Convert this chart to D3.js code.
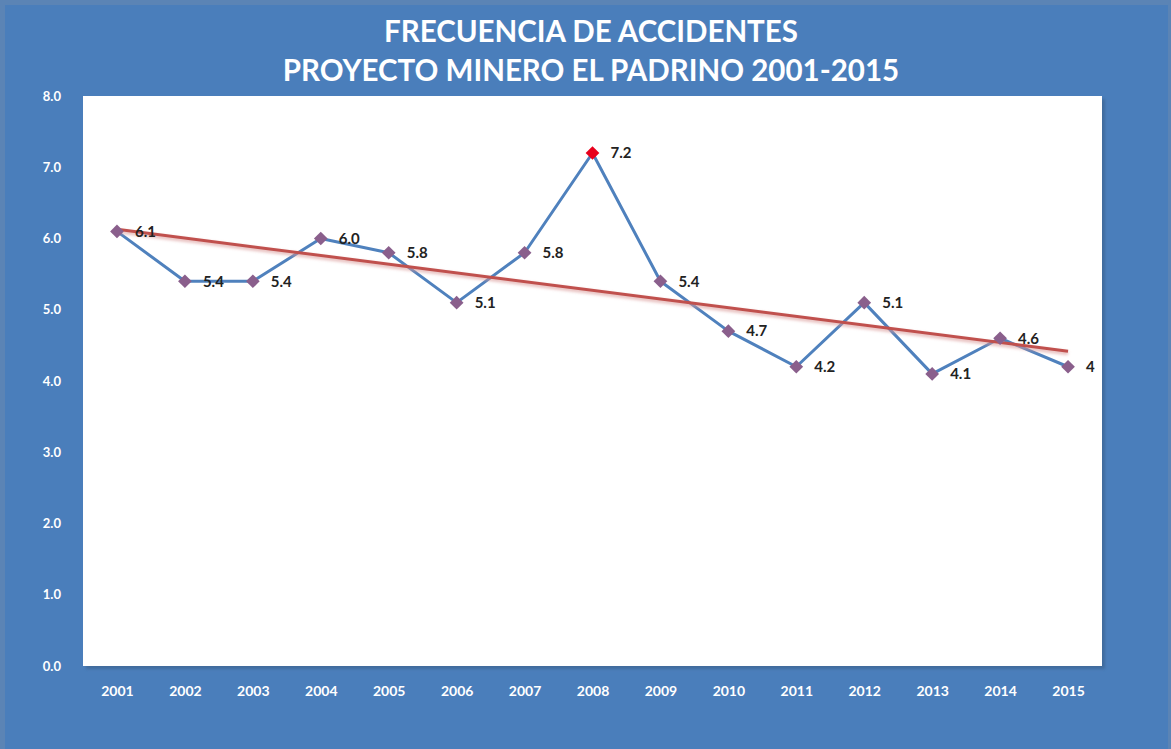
<!DOCTYPE html>
<html>
<head>
<meta charset="utf-8">
<script src="https://cdn.jsdelivr.net/npm/d3@7"></script>
<style>
  body { margin: 0; background: #fff; }
  svg { display: block; }
  text { font-family: Lato, "Open Sans", sans-serif; }
</style>
</head>
<body>
<svg id="chart"></svg>
<script>
const years = ["2001","2002","2003","2004","2005","2006","2007","2008","2009","2010","2011","2012","2013","2014","2015"];
const frecuencia = [6.1, 5.4, 5.4, 6.0, 5.8, 5.1, 5.8, 7.2, 5.4, 4.7, 4.2, 5.1, 4.1, 4.6, 4.2];
const etiquetas = ["6.1","5.4","5.4","6.0","5.8","5.1","5.8","7.2","5.4","4.7","4.2","5.1","4.1","4.6","4"];
const yTicks = [0, 1, 2, 3, 4, 5, 6, 7, 8];
const titulo = ["FRECUENCIA DE ACCIDENTES", "PROYECTO MINERO EL PADRINO 2001-2015"];

const width = 1171, height = 749;
const plot = { left: 83, right: 1102, top: 96, bottom: 666 };

const svg = d3.select("#chart")
    .attr("width", width)
    .attr("height", height);

const defs = svg.append("defs");
const blur = defs.append("filter").attr("id", "soft")
    .attr("x", "-5%").attr("y", "-50%").attr("width", "110%").attr("height", "200%");
blur.append("feGaussianBlur").attr("stdDeviation", 1.5);

// fondo azul
svg.append("rect")
    .attr("width", width).attr("height", height)
    .attr("fill", "#5b84b5");
svg.append("rect")
    .attr("x", 5).attr("y", 5)
    .attr("width", width - 8).attr("height", height - 5)
    .attr("fill", "#4a7ebb");

// sombra + area de trazado
svg.append("rect")
    .attr("x", plot.left + 3).attr("y", plot.top + 3)
    .attr("width", plot.right - plot.left).attr("height", plot.bottom - plot.top)
    .attr("fill", "#3f6a9c")
    .attr("filter", "url(#soft)");
svg.append("rect")
    .attr("x", plot.left).attr("y", plot.top)
    .attr("width", plot.right - plot.left).attr("height", plot.bottom - plot.top)
    .attr("fill", "#ffffff");

const x = d3.scalePoint()
    .domain(years)
    .range([plot.left, plot.right])
    .padding(0.5);

const y = d3.scaleLinear()
    .domain([0, 8])
    .range([plot.bottom, plot.top]);

// titulo
svg.append("g").selectAll("text")
    .data(titulo)
    .join("text")
    .attr("x", 591)
    .attr("y", (d, i) => 42 + i * 39)
    .attr("text-anchor", "middle")
    .attr("fill", "#ffffff")
    .attr("font-weight", "bold")
    .attr("font-size", 29.5)
    .text(d => d);

// ejes
const yAxis = svg.append("g")
    .attr("transform", `translate(${plot.left - 19}, 0)`)
    .call(d3.axisLeft(y).tickValues(yTicks).tickFormat(d3.format(".1f")).tickSize(0));
yAxis.select(".domain").remove();
yAxis.selectAll("text")
    .attr("fill", "#ffffff")
    .attr("font-weight", "bold")
    .attr("font-size", 13)
    .attr("font-family", "Lato, sans-serif");

const xAxis = svg.append("g")
    .attr("transform", `translate(0, ${plot.bottom + 17})`)
    .call(d3.axisBottom(x).tickSize(0));
xAxis.select(".domain").remove();
xAxis.selectAll("text")
    .attr("fill", "#ffffff")
    .attr("font-weight", "bold")
    .attr("font-size", 14)
    .attr("font-family", "Lato, sans-serif");

// serie
const data = years.map((yr, i) => ({ year: yr, value: frecuencia[i], label: etiquetas[i], i: i }));

const line = d3.line()
    .x(d => x(d.year))
    .y(d => y(d.value));

svg.append("path")
    .datum(data)
    .attr("d", line)
    .attr("fill", "none")
    .attr("stroke", "#4f81bd")
    .attr("stroke-width", 3)
    .attr("stroke-linejoin", "round");

// linea de tendencia (minimos cuadrados)
const n = data.length;
const mx = d3.mean(data, d => d.i);
const my = d3.mean(data, d => d.value);
const slope = d3.sum(data, d => (d.i - mx) * (d.value - my)) / d3.sum(data, d => (d.i - mx) ** 2);
const icpt = my - slope * mx;
const trend = [data[0], data[n - 1]].map(d => ({ year: d.year, value: icpt + slope * d.i }));

svg.append("path")
    .datum(trend)
    .attr("d", line)
    .attr("transform", "translate(0, 2)")
    .attr("stroke", "#d99694")
    .attr("stroke-width", 4)
    .attr("stroke-opacity", 0.6)
    .attr("filter", "url(#soft)");
svg.append("path")
    .datum(trend)
    .attr("d", line)
    .attr("stroke", "#c0504d")
    .attr("stroke-width", 3);

// marcadores
svg.append("g").selectAll("path")
    .data(data)
    .join("path")
    .attr("transform", d => `translate(${x(d.year)}, ${y(d.value)})`)
    .attr("d", d3.symbol(d3.symbolDiamond2, 120))
    .attr("fill", d => d.year === "2008" ? "#e8001c" : "#8a5f8c");

// etiquetas de datos
svg.append("g").selectAll("text")
    .data(data)
    .join("text")
    .attr("x", d => x(d.year) + 18)
    .attr("y", d => y(d.value))
    .attr("dy", "0.35em")
    .attr("font-size", 15)
    .attr("font-weight", "bold")
    .attr("fill", "#222")
    .text(d => d.label);
</script>
</body>
</html>
